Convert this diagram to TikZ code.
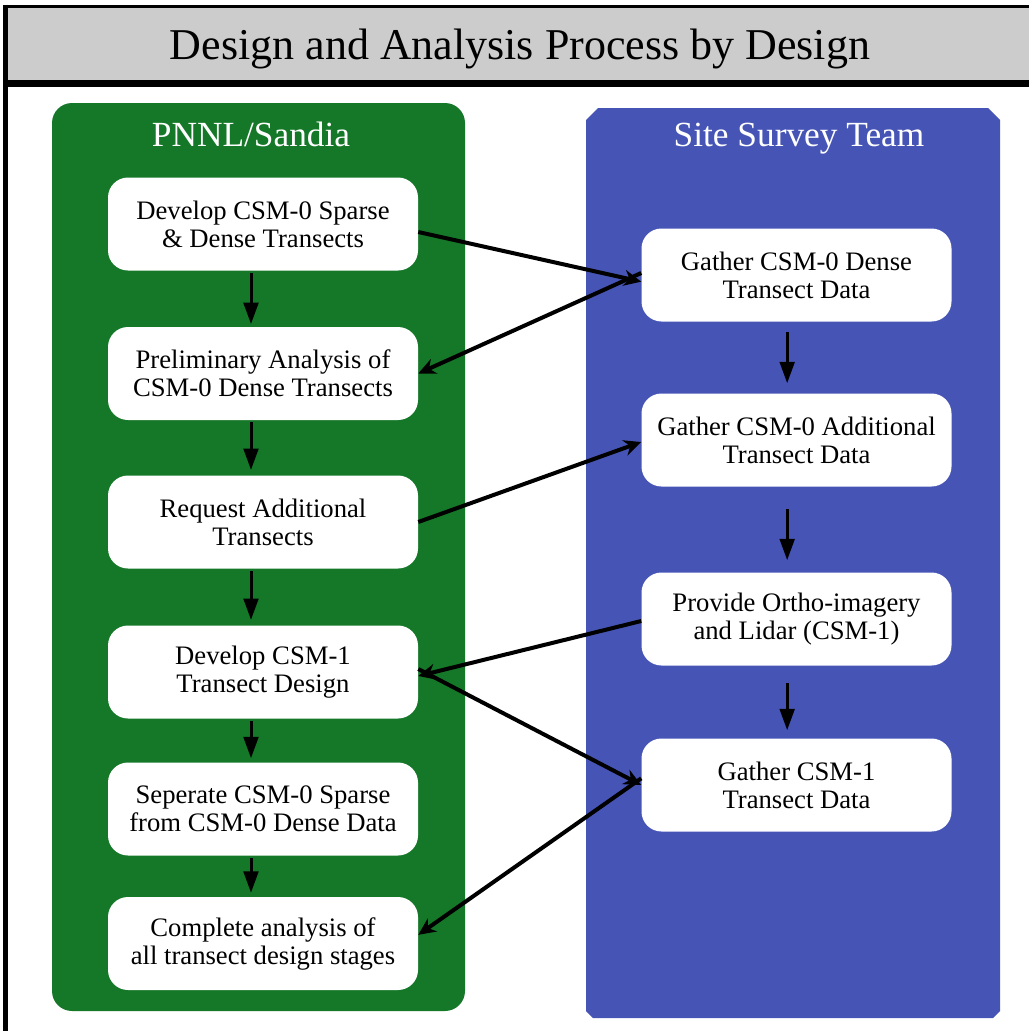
\documentclass[tikz,border=0pt]{standalone}
\usepackage{fontspec}
\setmainfont{Liberation Serif}
\usetikzlibrary{arrows.meta}

\definecolor{pnnlgreen}{RGB}{21,120,40}
\definecolor{surveyblue}{RGB}{70,85,181}
\definecolor{titlegray}{RGB}{204,204,204}

\begin{document}
\begin{tikzpicture}[x=0.75pt,y=0.75pt,yscale=-1,xscale=1,
  stepbox/.style={fill=white,rounded corners=15pt,minimum width=232.5pt,minimum height=69.75pt,align=center,inner sep=2pt,font=\fontsize{20}{21}\selectfont},
  header/.style={anchor=base,text=white,inner sep=0pt,font=\fontsize{26.5}{30}\selectfont},
  downarrow/.style={line width=2.25pt,-{Triangle[length=16pt,width=11pt]}},
  crossarrow/.style={line width=3pt,-{Stealth[length=13pt,width=12pt]}}]
\useasboundingbox (0,0) rectangle (1029,1031);

%Shape: Title Bar
\fill [titlegray] (6,8) rectangle (1029,80) ;
\draw [line width=5.25pt] (6,83.5) -- (1029,83.5) ;
%Straight Lines: frame
\draw [line width=2.25pt] (3,6.5) -- (1029,6.5) ;
\draw [line width=3.75pt] (5,5) -- (5,1031) ;
%Shape: Rounded Rect (PNNL/Sandia lane)
\fill [pnnlgreen,rounded corners=15pt] (52,103) rectangle (465,1011) ;
%Shape: Chamfered Rect (Site Survey Team lane)
\fill [surveyblue] (586,120) -- (598,108) -- (988,108) -- (1000,120) -- (1000,1011) -- (993,1018) -- (593,1018) -- (586,1011) -- cycle ;

% Text Node
\node [anchor=base,inner sep=0pt,font=\fontsize{33}{36}\selectfont] (title) at (520,60) {Design and Analysis Process by Design};
% Text Node
\node [header] (pnnl) at (251,146) {PNNL/Sandia};
% Text Node
\node [header] (survey) at (799,146) {Site Survey Team};

%Steps: PNNL/Sandia
\node [stepbox] (g1) at (263,224) {Develop CSM-0 Sparse\\\& Dense Transects};
\node [stepbox] (g2) at (263,373.5) {Preliminary Analysis of\\CSM-0 Dense Transects};
\node [stepbox] (g3) at (263,522) {Request Additional\\Transects};
\node [stepbox] (g4) at (263,672) {Develop CSM-1\\Transect Design};
\node [stepbox] (g5) at (263,809) {Seperate CSM-0 Sparse\\from CSM-0 Dense Data};
\node [stepbox] (g6) at (263,943.5) {Complete analysis of\\all transect design stages};
%Steps: Site Survey Team
\node [stepbox] (b1) at (796.5,275) {Gather CSM-0 Dense\\Transect Data};
\node [stepbox] (b2) at (796.5,440) {Gather CSM-0 Additional\\Transect Data};
\node [stepbox] (b3) at (796.5,619) {Provide Ortho-imagery\\and Lidar (CSM-1)};
\node [stepbox] (b4) at (796.5,785) {Gather CSM-1\\Transect Data};

%Straight Lines: down the lanes
\draw [downarrow,shorten <=2pt,shorten >=2pt] ([xshift=-9pt]g1.south) -- ([xshift=-9pt]g2.north) ;
\draw [downarrow,shorten <=1.5pt,shorten >=4pt] ([xshift=-9pt]g2.south) -- ([xshift=-9pt]g3.north) ;
\draw [downarrow,shorten <=1.5pt,shorten >=4pt] ([xshift=-9pt]g3.south) -- ([xshift=-9pt]g4.north) ;
\draw [downarrow,shorten <=1.5pt,shorten >=3pt] ([xshift=-9pt]g4.south) -- ([xshift=-9pt]g5.north) ;
\draw [downarrow,shorten <=1.5pt,shorten >=3pt] ([xshift=-9pt]g5.south) -- ([xshift=-9pt]g6.north) ;
\draw [downarrow,shorten <=8pt,shorten >=7.5pt] ([xshift=-7pt]b1.south) -- ([xshift=-7pt]b2.north) ;
\draw [downarrow,shorten <=17pt,shorten >=9pt] ([xshift=-7pt]b2.south) -- ([xshift=-7pt]b3.north) ;
\draw [downarrow,shorten <=13pt,shorten >=6pt] ([xshift=-7pt]b3.south) -- ([xshift=-7pt]b4.north) ;

%Straight Lines: across the lanes
\draw [crossarrow] ([yshift=6pt]g1.east) -- ([yshift=5pt]b1.west) ;
\draw [crossarrow] ([yshift=-1.5pt]b1.west) -- (g2.east) ;
\draw [crossarrow] (g3.east) -- ([yshift=1.5pt]b2.west) ;
\draw [crossarrow] ([yshift=1.5pt]b3.west) -- ([yshift=3pt]g4.east) ;
\draw [crossarrow] ([yshift=-2.25pt]g4.east) -- (b4.west) ;
\draw [crossarrow] ([yshift=-5pt]b4.west) -- ([yshift=-6.5pt]g6.east) ;

\end{tikzpicture}
\end{document}
